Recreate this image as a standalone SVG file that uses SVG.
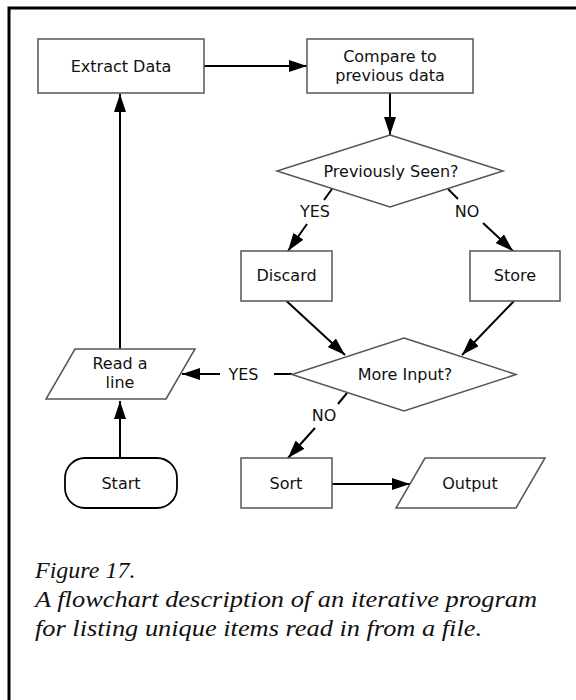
<svg xmlns="http://www.w3.org/2000/svg" width="576" height="700" viewBox="0 0 576 700">
<defs>
<marker id="ah" markerUnits="userSpaceOnUse" markerWidth="18" markerHeight="12" refX="18" refY="6" orient="auto">
<path d="M0,0 L18,6 L0,12 z" fill="#000"/>
</marker>
<style>
.box{fill:#fff;stroke:#555;stroke-width:1.5}
.term{fill:#fff;stroke:#000;stroke-width:1.8}
.t{font-family:"DejaVu Sans","Verdana",sans-serif;font-size:16px;fill:#111;text-anchor:middle}
.c{stroke:#000;stroke-width:2;fill:none}
.a{marker-end:url(#ah)}
.cap{font-family:"Liberation Serif",serif;font-style:italic;font-size:24px;fill:#111}
</style>
</defs>
<rect x="0" y="0" width="576" height="700" fill="#fff"/>
<rect x="9" y="8" width="620" height="740" fill="none" stroke="#000" stroke-width="3"/>

<g id="connectors">
<line class="c a" x1="204" y1="66" x2="307" y2="66"/>
<line class="c a" x1="390" y1="93" x2="390" y2="135"/>
<line class="c" x1="332" y1="189" x2="324" y2="200"/>
<line class="c a" x1="307" y1="224" x2="288" y2="251"/>
<line class="c" x1="448" y1="189" x2="458" y2="199"/>
<line class="c a" x1="483" y1="223" x2="513" y2="251"/>
<line class="c a" x1="286.5" y1="301" x2="345" y2="355"/>
<line class="c a" x1="514" y1="301" x2="462" y2="355"/>
<line class="c" x1="292" y1="374" x2="274" y2="374"/>
<line class="c a" x1="220" y1="374" x2="182" y2="374"/>
<line class="c" x1="347" y1="393" x2="338" y2="404"/>
<line class="c a" x1="315" y1="428" x2="288" y2="458"/>
<line class="c a" x1="332" y1="484" x2="410" y2="484"/>
<line class="c a" x1="120" y1="349" x2="120" y2="94"/>
<line class="c a" x1="120" y1="458" x2="120" y2="401"/>
<text class="t" x="315" y="217">YES</text>
<text class="t" x="467" y="217">NO</text>
<text class="t" x="243.5" y="380">YES</text>
<text class="t" x="324" y="421">NO</text>
</g>

<g id="extract">
<rect class="box" x="38" y="39" width="166" height="54"/>
<text class="t" x="121" y="72">Extract Data</text>
</g>
<g id="compare">
<rect class="box" x="307" y="39" width="166" height="54"/>
<text class="t" x="390" y="61.5">Compare to</text>
<text class="t" x="390" y="81">previous data</text>
</g>
<g id="seen">
<polygon class="box" points="390,135 503,171 390,207 277,171"/>
<text class="t" x="391" y="176.5">Previously Seen?</text>
</g>
<g id="discard">
<rect class="box" x="241" y="251" width="91" height="50"/>
<text class="t" x="286.5" y="281">Discard</text>
</g>
<g id="store">
<rect class="box" x="470" y="251" width="90" height="50"/>
<text class="t" x="515" y="281">Store</text>
</g>
<g id="more">
<polygon class="box" points="404,338 516,374.5 404,411 292,374.5"/>
<text class="t" x="405" y="380">More Input?</text>
</g>
<g id="read">
<polygon class="box" points="75,349 195,349 166,399 46,399"/>
<text class="t" x="120" y="369">Read a</text>
<text class="t" x="120" y="388">line</text>
</g>
<g id="start">
<rect class="term" x="65" y="458" width="112" height="50" rx="20" ry="20"/>
<text class="t" x="121" y="489">Start</text>
</g>
<g id="sort">
<rect class="box" x="241" y="458" width="91" height="50"/>
<text class="t" x="286" y="489">Sort</text>
</g>
<g id="output">
<polygon class="box" points="425,458 545,458 516,508 396,508"/>
<text class="t" x="470" y="489">Output</text>
</g>

<g id="caption">
<text class="cap" x="35" y="578">Figure 17.</text>
<text class="cap" x="35" y="607" textLength="502" lengthAdjust="spacingAndGlyphs">A flowchart description of an iterative program</text>
<text class="cap" x="35" y="636" textLength="447" lengthAdjust="spacingAndGlyphs">for listing unique items read in from a file.</text>
</g>
</svg>
